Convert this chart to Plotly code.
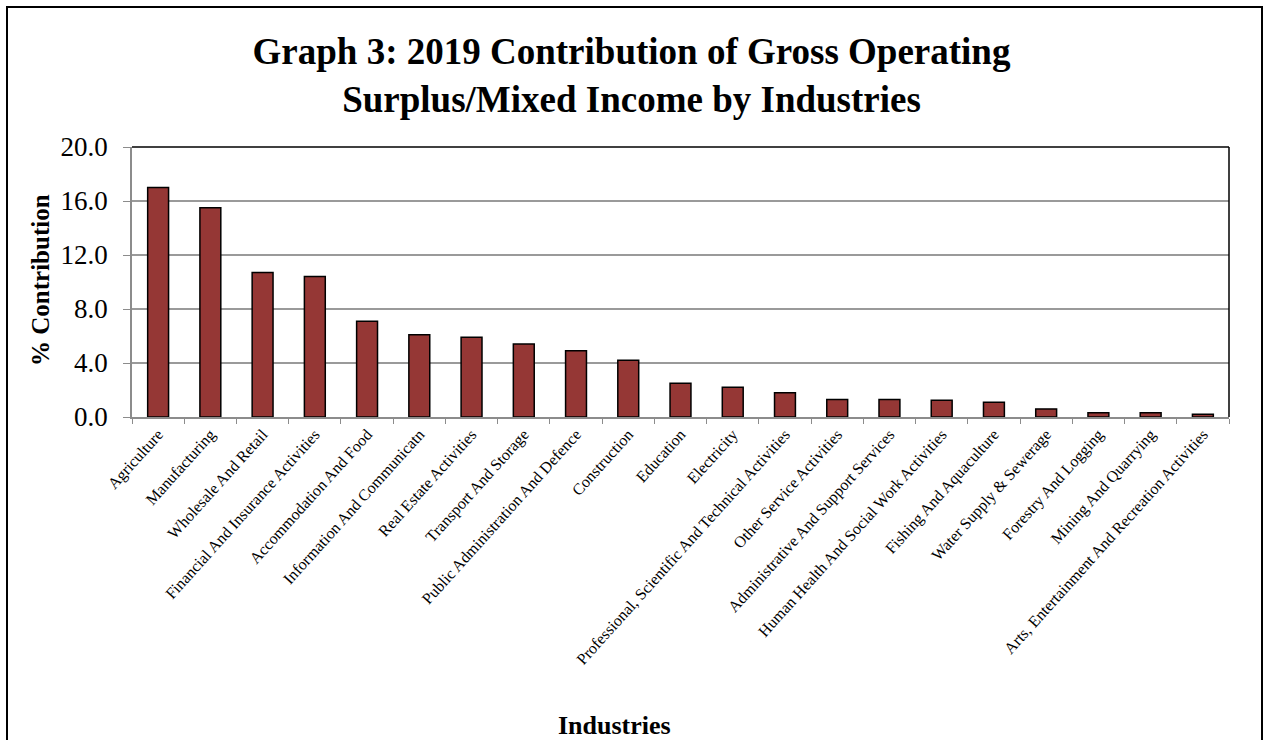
import plotly.graph_objects as go

industries = [
    "Agriculture", "Manufacturing", "Wholesale And Retail",
    "Financial And Insurance Activities", "Accommodation And Food",
    "Information And Communicatn", "Real Estate Activities",
    "Transport And Storage", "Public Administration And Defence",
    "Construction", "Education", "Electricity",
    "Professional, Scientific And Technical Activities",
    "Other Service Activities", "Administrative And Support Services",
    "Human Health And Social Work Activities", "Fishing And Aquaculture",
    "Water Supply & Sewerage", "Forestry And Logging",
    "Mining And Quarrying", "Arts, Entertainment And Recreation Activities",
]
contribution = [17.0, 15.5, 10.7, 10.4, 7.1, 6.1, 5.9, 5.4, 4.9, 4.2,
                2.5, 2.2, 1.8, 1.3, 1.3, 1.25, 1.1, 0.6, 0.32, 0.32, 0.2]
y_ticks = [0, 4, 8, 12, 16, 20]
y_tick_labels = ["0.0", "4.0", "8.0", "12.0", "16.0", "20.0"]

FONT = "Times New Roman, Liberation Serif, serif"
W, H = 1263, 740
L, R, T, B = 132, 34, 147, 323
pw, ph = W - L - R, H - T - B

def px(x):
    return (x - L) / pw

def py(y):
    return (H - B - y) / ph

fig = go.Figure(go.Bar(
    x=industries, y=contribution,
    marker=dict(color="#953735", line=dict(color="black", width=1.5)),
))

fig.update_layout(
    width=W, height=H,
    margin=dict(l=L, r=R, t=T, b=B),
    paper_bgcolor="white", plot_bgcolor="white",
    bargap=0.6, showlegend=False,
    font=dict(family=FONT, color="black"),
    title=dict(
        text="<b>Graph 3: 2019 Contribution of Gross Operating<br>Surplus/Mixed Income by Industries</b>",
        x=0.5, xanchor="center", xref="container",
        y=(H - 64) / H, yanchor="middle", yref="container",
        font=dict(family=FONT, size=37, color="black"),
    ),
    xaxis=dict(
        type="category", tickangle=-48, tickfont=dict(size=16, family=FONT),
        tickson="boundaries", ticks="outside", ticklen=5, tickcolor="#8c8c8c",
        showline=True, linecolor="#8c8c8c", linewidth=1.5, showgrid=False,
        automargin=False,
    ),
    yaxis=dict(
        range=[0, 20], tickvals=y_ticks, ticktext=y_tick_labels,
        tickfont=dict(size=27, family=FONT), ticklabelstandoff=10,
        ticks="outside", ticklen=7, tickcolor="#8c8c8c",
        showline=True, linecolor="#8c8c8c", linewidth=1.5,
        showgrid=True, gridcolor="#9a9a9a", gridwidth=1.5,
        zeroline=False, automargin=False,
    ),
    shapes=[
        dict(type="line", xref="paper", yref="paper", x0=0, x1=1, y0=1, y1=1,
             line=dict(color="black", width=1.5)),
        dict(type="line", xref="paper", yref="paper", x0=1, x1=1, y0=0, y1=1,
             line=dict(color="black", width=1.5)),
        dict(type="rect", xref="paper", yref="paper",
             x0=px(7), x1=px(1262), y0=py(745), y1=py(7),
             line=dict(color="black", width=2)),
    ],
    annotations=[
        dict(text="<b>% Contribution</b>", textangle=-90, showarrow=False,
             xref="paper", yref="paper", x=px(40), y=py(280),
             xanchor="center", yanchor="middle",
             font=dict(family=FONT, size=25, color="black")),
        dict(text="<b>Industries</b>", showarrow=False,
             xref="paper", yref="paper", x=px(614), y=py(725),
             xanchor="center", yanchor="middle",
             font=dict(family=FONT, size=26, color="black")),
    ],
)

fig.write_html("out.html")
